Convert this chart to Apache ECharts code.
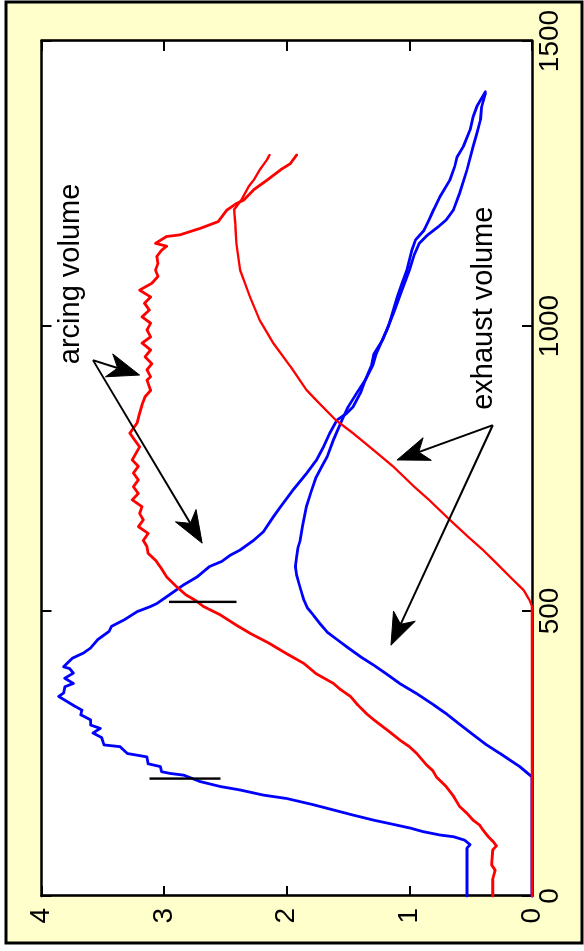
<!DOCTYPE html>
<html>
<head>
<meta charset="utf-8">
<script src="https://cdn.jsdelivr.net/npm/echarts@6/dist/echarts.min.js"></script>
<style>
  html, body { margin: 0; padding: 0; background: #ffffff; }
  #stage { position: relative; width: 584px; height: 951px; overflow: hidden; background: #ffffff; }
  /* the figure is laid out landscape and turned a quarter turn counter-clockwise */
  #chart { position: absolute; left: 0; top: 0; width: 951px; height: 584px;
           transform-origin: 0 0; transform: translate(0, 951px) rotate(-90deg); }
</style>
</head>
<body>
<div id="stage"><div id="chart"></div></div>
<script>
// axis ticks
const xTicks = [0, 500, 1000, 1500];
const yTicks = [0, 1, 2, 3, 4];

// pressure in the arcing volume (blue)
const blueArc = [[0,0.53],[84,0.53],[90,0.505],[98,0.55],[104,0.64],[107,0.75],[113,0.89],[119,0.99],[127,1.16],[133,1.29],[142,1.46],[151,1.62],[160,1.78],[171,2.0],[177,2.19],[186,2.38],[192,2.54],[201,2.71],[212,2.84],[215,2.95],[218,3.02],[227,3.03],[232,3.13],[244,3.14],[247,3.22],[250,3.30],[262,3.36],[265,3.49],[278,3.51],[286,3.58],[294,3.52],[300,3.60],[309,3.60],[318,3.68],[326,3.67],[332,3.72],[341,3.79],[350,3.86],[356,3.82],[367,3.81],[373,3.74],[382,3.81],[391,3.74],[399,3.77],[402,3.82],[417,3.75],[426,3.66],[435,3.60],[450,3.54],[464,3.45],[473,3.43],[484,3.33],[499,3.22],[508,3.11],[513,3.06],[525,2.98],[537,2.90],[546,2.84],[560,2.73],[569,2.68],[578,2.63],[587,2.53],[598,2.46],[607,2.38],[624,2.27],[639,2.19],[665,2.11],[683,2.05],[712,1.95],[741,1.84],[764,1.76],[788,1.70],[812,1.65],[835,1.59],[847,1.51],[858,1.46],[882,1.40],[905,1.36],[930,1.31],[951,1.29],[975,1.22],[1000,1.17],[1028,1.13],[1050,1.10],[1069,1.07],[1098,1.02],[1133,0.98],[1151,0.95],[1168,0.88],[1186,0.84],[1205,0.80],[1227,0.75],[1256,0.67],[1280,0.63],[1297,0.61],[1315,0.56],[1344,0.505],[1367,0.48],[1385,0.45],[1400,0.41],[1411,0.38]];

// pressure in the exhaust volume (blue)
const blueExh = [[0,0],[209,0],[227,0.10],[250,0.26],[265,0.37],[283,0.48],[303,0.60],[320,0.70],[335,0.80],[355,0.94],[373,1.08],[390,1.19],[405,1.29],[420,1.40],[437,1.51],[450,1.59],[463,1.67],[478,1.73],[492,1.78],[505,1.83],[519,1.86],[533,1.88],[548,1.90],[563,1.92],[578,1.93],[595,1.92],[610,1.91],[624,1.89],[650,1.87],[683,1.84],[710,1.80],[735,1.76],[755,1.71],[771,1.67],[800,1.62],[835,1.55],[858,1.50],[882,1.43],[905,1.36],[930,1.30],[951,1.27],[990,1.19],[1028,1.12],[1063,1.06],[1098,1.00],[1125,0.96],[1145,0.92],[1160,0.85],[1175,0.76],[1186,0.70],[1204,0.64],[1233,0.59],[1274,0.53],[1315,0.48],[1338,0.45],[1362,0.42],[1385,0.41],[1408,0.38]];

// density in the arcing volume (red)
const redArc = [[0,0.32],[30,0.32],[45,0.30],[55,0.33],[81,0.32],[88,0.29],[95,0.315],[105,0.36],[116,0.40],[125,0.43],[133,0.48],[145,0.53],[157,0.59],[175,0.64],[192,0.70],[209,0.78],[220,0.81],[230,0.86],[250,0.94],[262,1.00],[274,1.08],[291,1.18],[309,1.29],[320,1.35],[335,1.42],[350,1.48],[362,1.56],[373,1.62],[390,1.76],[408,1.86],[425,2.00],[443,2.14],[461,2.30],[475,2.41],[493,2.54],[508,2.68],[518,2.74],[528,2.82],[543,2.90],[560,2.98],[577,3.03],[589,3.07],[601,3.13],[613,3.14],[624,3.17],[636,3.13],[648,3.21],[660,3.17],[671,3.20],[683,3.18],[695,3.26],[706,3.21],[718,3.25],[730,3.21],[742,3.25],[754,3.21],[765,3.26],[788,3.20],[800,3.24],[812,3.28],[830,3.22],[847,3.20],[862,3.18],[876,3.155],[887,3.11],[905,3.14],[911,3.11],[923,3.14],[934,3.10],[946,3.155],[958,3.11],[970,3.18],[981,3.11],[993,3.14],[1005,3.11],[1016,3.18],[1028,3.12],[1040,3.16],[1051,3.11],[1063,3.20],[1075,3.10],[1087,3.05],[1098,3.07],[1110,3.05],[1122,3.06],[1133,3.02],[1140,2.98],[1145,3.07],[1157,2.98],[1160,2.87],[1171,2.71],[1183,2.56],[1203,2.49],[1215,2.41],[1221,2.35],[1239,2.27],[1256,2.16],[1274,2.05],[1285,1.97],[1300,1.92]];

// density in the exhaust volume (red)
const redExh = [[0,0],[508,0],[519,0.02],[537,0.07],[560,0.18],[584,0.29],[607,0.40],[630,0.52],[660,0.67],[695,0.84],[718,0.96],[753,1.13],[782,1.29],[812,1.46],[835,1.60],[870,1.76],[888,1.84],[929,1.97],[970,2.11],[1010,2.22],[1051,2.30],[1098,2.38],[1145,2.41],[1180,2.42],[1204,2.43],[1221,2.37],[1245,2.31],[1256,2.27],[1274,2.22],[1292,2.16],[1300,2.14]];

// short vertical reference bars: [x, yLow, yHigh]
const markerBars = [[206, 2.54, 3.12], [516, 2.41, 2.96]];

// annotation texts, anchored at the left end of the text, mid height
const noteTexts = [
  { text: 'arcing volume', at: [933, 3.76] },
  { text: 'exhaust volume', at: [853, 0.39] }
];
// annotation arrows from the text towards the curves
const noteArrows = [
  { from: [940, 3.58], to: [914, 3.20] },
  { from: [940, 3.58], to: [619, 2.69] },
  { from: [826, 0.32], to: [765, 1.10] },
  { from: [826, 0.32], to: [440, 1.15] }
];

const FONT = '"Liberation Sans", Arial, Helvetica, sans-serif';
const BLUE = '#0000ff', RED = '#ff0000';

function valueAxis(ticks, pos, showLabels, labelOpt) {
  return {
    type: 'value', position: pos,
    min: ticks[0], max: ticks[ticks.length - 1], interval: ticks[1] - ticks[0],
    axisLine: { show: true, onZero: false, lineStyle: { color: '#000', width: 2.6 } },
    axisTick: { show: true, inside: true, length: 10, lineStyle: { color: '#000', width: 2 } },
    axisLabel: Object.assign({
      show: showLabels, color: '#000', fontSize: 28, fontFamily: FONT,
      formatter: v => String(v)
    }, labelOpt || {}),
    splitLine: { show: false }
  };
}

function curve(name, data, color, width) {
  return {
    name, type: 'line', data, showSymbol: false, symbol: 'none',
    lineStyle: { color, width, join: 'round', cap: 'round' },
    silent: true, animation: false
  };
}

const series = [
  curve('arcing pressure', blueArc, BLUE, 2.8),
  curve('exhaust pressure', blueExh, BLUE, 2.8),
  curve('arcing density', redArc, RED, 2.8),
  curve('exhaust density', redExh, RED, 2.3)
];
markerBars.forEach((b, i) => {
  series.push({
    name: 'bar' + i, type: 'line', data: [[b[0], b[1]], [b[0], b[2]]],
    showSymbol: false, symbol: 'none',
    lineStyle: { color: '#000', width: 2.4 }, silent: true, animation: false, z: 3
  });
});

const chart = echarts.init(document.getElementById('chart'), null, { renderer: 'canvas', width: 951, height: 584 });
chart.setOption({
  animation: false,
  grid: { left: 55, right: 41, top: 41.5, bottom: 52, show: true, backgroundColor: '#ffffff', borderWidth: 0 },
  xAxis: [
    valueAxis(xTicks, 'bottom', true, { margin: 4 }),
    valueAxis(xTicks, 'top', false)
  ],
  yAxis: [
    valueAxis(yTicks, 'left', true, { margin: 12, padding: [0, 0, 9, 0] }),
    valueAxis(yTicks, 'right', false)
  ],
  series
});

// figure frame, annotation texts and arrows placed through the data scales
const px = p => chart.convertToPixel({ seriesIndex: 0 }, p);
const graphics = [{
  type: 'rect', z: -10, silent: true,
  shape: { x: 8, y: 6, width: 941, height: 576 },
  style: { fill: '#ffffcc', stroke: '#000', lineWidth: 3 }
}];
noteTexts.forEach(n => {
  const p = px(n.at);
  graphics.push({
    type: 'text', x: p[0], y: p[1], z: 10, silent: true,
    style: { text: n.text, fontSize: 29, fontFamily: FONT, fill: '#000',
             align: 'left', verticalAlign: 'middle', textAlign: 'left', textVerticalAlign: 'middle' }
  });
});
noteArrows.forEach(a => {
  const s = px(a.from), t = px(a.to);
  const dx = t[0] - s[0], dy = t[1] - s[1];
  const len = Math.hypot(dx, dy);
  const ux = dx / len, uy = dy / len, nx = -uy, ny = ux;
  const L = 32, W = 12;
  const back = [t[0] - ux * L, t[1] - uy * L];
  const notch = [t[0] - ux * L * 0.72, t[1] - uy * L * 0.72];
  graphics.push({
    type: 'polyline', z: 10, silent: true,
    shape: { points: [s, notch] },
    style: { stroke: '#000', lineWidth: 2, fill: null }
  });
  graphics.push({
    type: 'polygon', z: 10, silent: true,
    shape: { points: [t, [back[0] + nx * W, back[1] + ny * W], notch, [back[0] - nx * W, back[1] - ny * W]] },
    style: { fill: '#000', stroke: '#000', lineWidth: 1 }
  });
});
chart.setOption({ graphic: graphics });
</script>
</body>
</html>
